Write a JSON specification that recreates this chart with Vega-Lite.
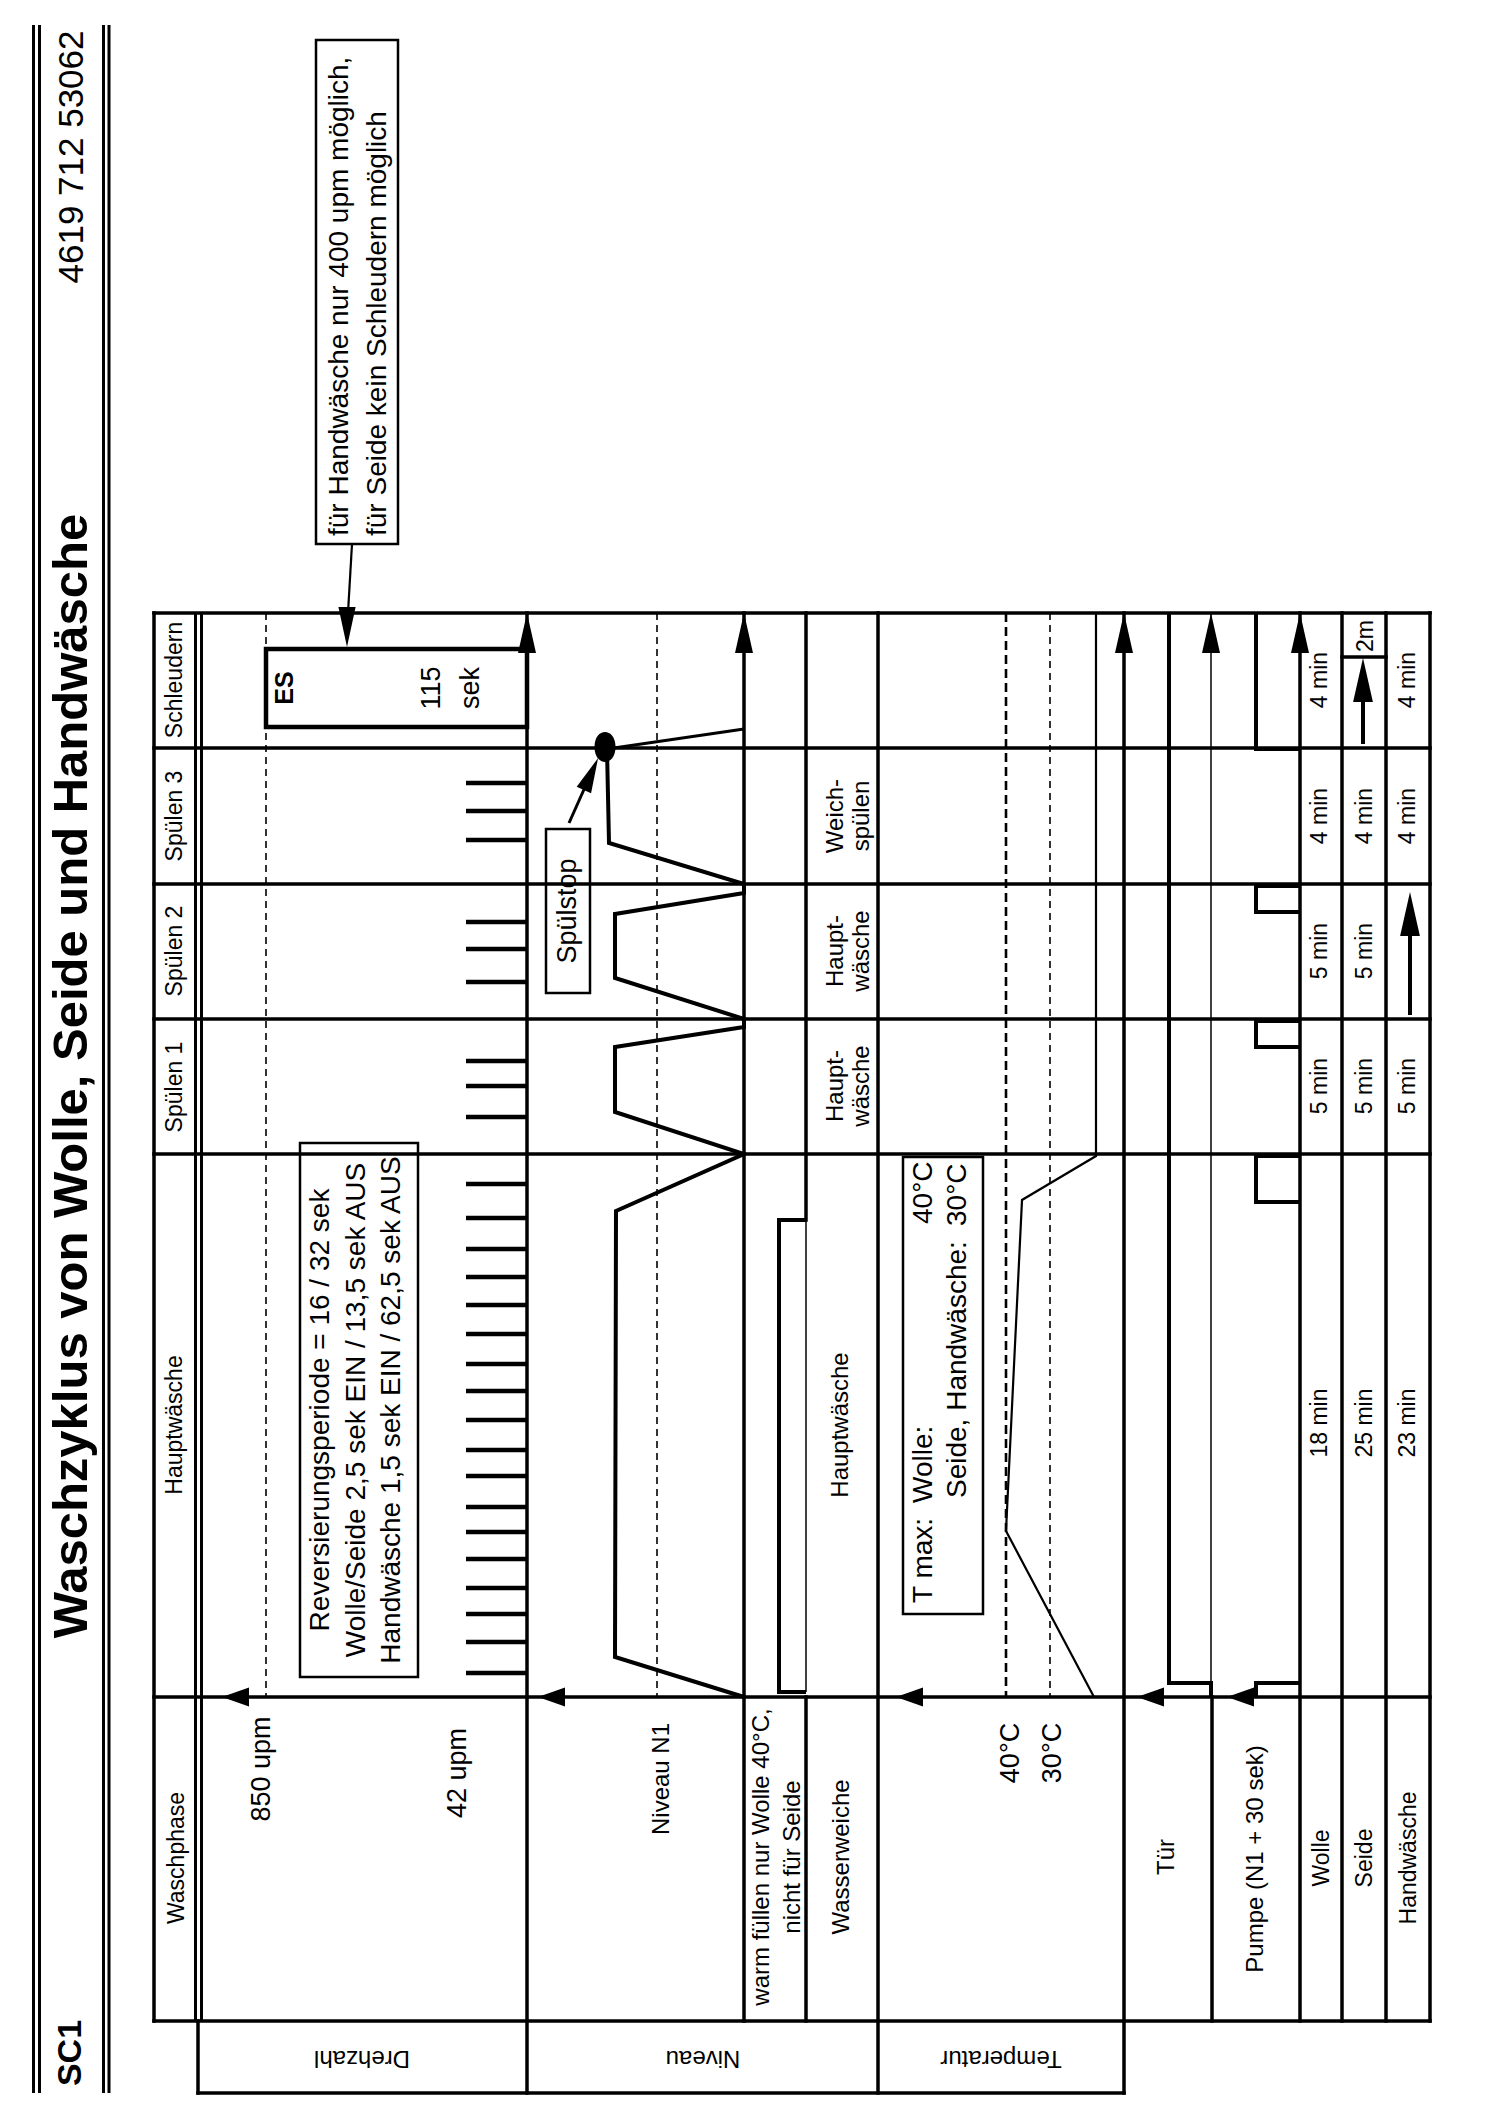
{
  "$schema": "https://vega.github.io/schema/vega-lite/v6.json",
  "width": 1500,
  "height": 2121,
  "autosize": {"type": "fit", "contains": "padding"},
  "padding": 0,
  "background": "white",
  "config": {"view": {"stroke": null}},
  "datasets": {
    "frame": [
      {"x":154,"y":613,"x2":1430,"y2":613},
      {"x":154,"y":2021,"x2":1430,"y2":2021},
      {"x":154,"y":613,"x2":154,"y2":2021},
      {"x":1430,"y":613,"x2":1430,"y2":2021},
      {"x":154,"y":748,"x2":1430,"y2":748},
      {"x":154,"y":884,"x2":1430,"y2":884},
      {"x":154,"y":1019,"x2":1430,"y2":1019},
      {"x":154,"y":1154,"x2":1430,"y2":1154},
      {"x":154,"y":1697,"x2":1430,"y2":1697},
      {"x":527,"y":613,"x2":527,"y2":2093},
      {"x":744,"y":613,"x2":744,"y2":2021},
      {"x":806,"y":613,"x2":806,"y2":1220},
      {"x":806,"y":1697,"x2":806,"y2":2021},
      {"x":878,"y":613,"x2":878,"y2":2093},
      {"x":1124,"y":613,"x2":1124,"y2":2093},
      {"x":1212,"y":1697,"x2":1212,"y2":2021},
      {"x":1300,"y":613,"x2":1300,"y2":2021},
      {"x":1342,"y":613,"x2":1342,"y2":2021},
      {"x":1386,"y":613,"x2":1386,"y2":2021},
      {"x":198,"y":2021,"x2":198,"y2":2093},
      {"x":198,"y":2093,"x2":1124,"y2":2093},
      {"x":1342,"y":657,"x2":1386,"y2":657}
    ],
    "dbl": [
      {"x":195.5,"y":613,"x2":195.5,"y2":2021},
      {"x":201.5,"y":613,"x2":201.5,"y2":2021},
      {"x":33.5,"y":25,"x2":33.5,"y2":2093},
      {"x":39.5,"y":25,"x2":39.5,"y2":2093},
      {"x":103.5,"y":25,"x2":103.5,"y2":2093},
      {"x":109,"y":25,"x2":109,"y2":2093}
    ],
    "thin": [
      {"x":1211,"y":613,"x2":1211,"y2":1697},
      {"x":806,"y":1220,"x2":806,"y2":1692}
    ],
    "dashA": [
      {"x":266,"y":613,"x2":266,"y2":1697},
      {"x":657,"y":613,"x2":657,"y2":1697},
      {"x":1050,"y":613,"x2":1050,"y2":1697}
    ],
    "dashB": [
      {"x":1006,"y":613,"x2":1006,"y2":1697}
    ],
    "ticks": [
      {"x":466,"x2":527,"y":783},{"x":466,"x2":527,"y":811},{"x":466,"x2":527,"y":840},
      {"x":466,"x2":527,"y":922},{"x":466,"x2":527,"y":949},{"x":466,"x2":527,"y":982},
      {"x":466,"x2":527,"y":1061},{"x":466,"x2":527,"y":1086},{"x":466,"x2":527,"y":1117},
      {"x":466,"x2":527,"y":1184},{"x":466,"x2":527,"y":1218},{"x":466,"x2":527,"y":1249},
      {"x":466,"x2":527,"y":1277},{"x":466,"x2":527,"y":1305},{"x":466,"x2":527,"y":1334},
      {"x":466,"x2":527,"y":1364},{"x":466,"x2":527,"y":1391},{"x":466,"x2":527,"y":1420},
      {"x":466,"x2":527,"y":1450},{"x":466,"x2":527,"y":1476},{"x":466,"x2":527,"y":1507},
      {"x":466,"x2":527,"y":1532},{"x":466,"x2":527,"y":1559},{"x":466,"x2":527,"y":1588},
      {"x":466,"x2":527,"y":1614},{"x":466,"x2":527,"y":1642},{"x":466,"x2":527,"y":1673}
    ],
    "sig": [
      {"seg":"niv","i":1,"x":744,"y":1697},{"seg":"niv","i":2,"x":615,"y":1657},{"seg":"niv","i":3,"x":616,"y":1211},
      {"seg":"niv","i":4,"x":744,"y":1154},{"seg":"niv","i":5,"x":615,"y":1112},{"seg":"niv","i":6,"x":615,"y":1047},
      {"seg":"niv","i":7,"x":744,"y":1027},{"seg":"niv","i":8,"x":744,"y":1019},{"seg":"niv","i":9,"x":615,"y":978},
      {"seg":"niv","i":10,"x":615,"y":914},{"seg":"niv","i":11,"x":744,"y":893},{"seg":"niv","i":12,"x":744,"y":884},
      {"seg":"niv","i":13,"x":609,"y":843},{"seg":"niv","i":14,"x":607,"y":749},
      {"seg":"ww","i":1,"x":806,"y":1220},{"seg":"ww","i":2,"x":779,"y":1220},{"seg":"ww","i":3,"x":779,"y":1692},{"seg":"ww","i":4,"x":806,"y":1692},
      {"seg":"door","i":1,"x":1169,"y":613},{"seg":"door","i":2,"x":1169,"y":1683},{"seg":"door","i":3,"x":1211,"y":1683},{"seg":"door","i":4,"x":1211,"y":1697},
      {"seg":"p1","i":1,"x":1256,"y":613},{"seg":"p1","i":2,"x":1256,"y":749},{"seg":"p1","i":3,"x":1300,"y":749},
      {"seg":"p2","i":1,"x":1300,"y":886},{"seg":"p2","i":2,"x":1256,"y":886},{"seg":"p2","i":3,"x":1256,"y":912},{"seg":"p2","i":4,"x":1300,"y":912},
      {"seg":"p3","i":1,"x":1300,"y":1021},{"seg":"p3","i":2,"x":1256,"y":1021},{"seg":"p3","i":3,"x":1256,"y":1047},{"seg":"p3","i":4,"x":1300,"y":1047},
      {"seg":"p4","i":1,"x":1300,"y":1156},{"seg":"p4","i":2,"x":1256,"y":1156},{"seg":"p4","i":3,"x":1256,"y":1202},{"seg":"p4","i":4,"x":1300,"y":1202},
      {"seg":"p5","i":1,"x":1300,"y":1683},{"seg":"p5","i":2,"x":1256,"y":1683},{"seg":"p5","i":3,"x":1256,"y":1697},
      {"seg":"sa","i":1,"x":1363,"y":744},{"seg":"sa","i":2,"x":1363,"y":690},
      {"seg":"ha","i":1,"x":1410,"y":1015},{"seg":"ha","i":2,"x":1410,"y":925}
    ],
    "thinsig": [
      {"seg":"temp","i":1,"x":1094,"y":1697},{"seg":"temp","i":2,"x":1006,"y":1531},{"seg":"temp","i":3,"x":1022,"y":1200},
      {"seg":"temp","i":4,"x":1096,"y":1156},{"seg":"temp","i":5,"x":1096,"y":613},
      {"seg":"ptr","i":1,"x":352,"y":544},{"seg":"ptr","i":2,"x":347,"y":630}
    ],
    "medsig": [
      {"seg":"drain","i":1,"x":607,"y":749},{"seg":"drain","i":2,"x":744,"y":729},
      {"seg":"sp","i":1,"x":569,"y":823},{"seg":"sp","i":2,"x":590,"y":776}
    ],
    "boxes": [
      {"x":316,"y":40,"x2":398,"y2":544},
      {"x":300,"y":1143,"x2":418,"y2":1677},
      {"x":903,"y":1157,"x2":983,"y2":1614},
      {"x":546,"y":829,"x2":590,"y2":993}
    ],
    "esbox": [{"x":266,"y":649,"x2":527,"y2":727}],
    "arrUp40": [{"x":527,"y":633},{"x":744,"y":633},{"x":1124,"y":633},{"x":1211,"y":633},{"x":1300,"y":633}],
    "arrUp44": [{"x":1363,"y":680},{"x":1410,"y":914}],
    "arrLeft": [{"x":235.5,"y":1697},{"x":551.5,"y":1697},{"x":909.5,"y":1697},{"x":1150.5,"y":1697},{"x":1240.5,"y":1697}],
    "arrDown": [{"x":347,"y":627}],
    "arrSp": [{"x":591,"y":774}],
    "dot": [{"x":605,"y":747}],
    "tTitle": [{"t":"Waschzyklus von Wolle, Seide und Handwäsche","x":72,"y":1076}],
    "tSC": [{"t":"SC1","x":71,"y":2053}],
    "tNum": [{"t":"4619 712 53062","x":72,"y":157}],
    "t23": [
      {"t":"Schleudern","x":175,"y":680},{"t":"Spülen 3","x":175,"y":816},{"t":"Spülen 2","x":175,"y":951},
      {"t":"Spülen 1","x":175,"y":1087},{"t":"Hauptwäsche","x":175,"y":1425},{"t":"Waschphase","x":177,"y":1858},
      {"t":"4 min","x":1320,"y":680},{"t":"4 min","x":1320,"y":816},{"t":"5 min","x":1320,"y":951},{"t":"5 min","x":1320,"y":1086},{"t":"18 min","x":1320,"y":1423},
      {"t":"4 min","x":1365,"y":816},{"t":"5 min","x":1365,"y":951},{"t":"5 min","x":1365,"y":1086},{"t":"25 min","x":1365,"y":1423},
      {"t":"4 min","x":1408,"y":680},{"t":"4 min","x":1408,"y":816},{"t":"5 min","x":1408,"y":1086},{"t":"23 min","x":1408,"y":1423},
      {"t":"Wolle","x":1322,"y":1858},{"t":"Seide","x":1365,"y":1858},{"t":"Handwäsche","x":1409,"y":1858},
      {"t":"2m","x":1366,"y":636}
    ],
    "t24": [
      {"t":"Niveau N1","x":662,"y":1779},
      {"t":"warm füllen nur Wolle 40°C,","x":762,"y":1857},{"t":"nicht für Seide","x":793,"y":1857},
      {"t":"Wasserweiche","x":842,"y":1857},{"t":"Tür","x":1167,"y":1857},{"t":"Pumpe  (N1 + 30 sek)","x":1256,"y":1859},
      {"t":"Hauptwäsche","x":841,"y":1425},
      {"t":"Haupt-","x":836,"y":1086},{"t":"wäsche","x":862,"y":1086},
      {"t":"Haupt-","x":836,"y":951},{"t":"wäsche","x":862,"y":951},
      {"t":"Weich-","x":836,"y":816},{"t":"spülen","x":862,"y":816}
    ],
    "t27": [
      {"t":"850 upm","x":262,"y":1769},{"t":"42 upm","x":458,"y":1773},{"t":"Spülstop","x":568,"y":911},
      {"t":"40°C","x":1011,"y":1753},{"t":"30°C","x":1053,"y":1753},
      {"t":"115","x":432,"y":688},{"t":"sek","x":471,"y":688}
    ],
    "tES": [{"t":"ES","x":285,"y":688}],
    "tLeft": [
      {"t":"für Handwäsche nur 400 upm möglich,","x":340,"y":536},
      {"t":"für Seide kein Schleudern möglich","x":378,"y":536},
      {"t":"T max:","x":924,"y":1603},{"t":"Wolle:","x":924,"y":1503},{"t":"40°C","x":924,"y":1224},
      {"t":"Seide, Handwäsche:","x":958,"y":1498},{"t":"30°C","x":958,"y":1226}
    ],
    "tRev": [
      {"t":"Reversierungsperiode = 16 / 32 sek","x":321,"y":1410},
      {"t":"Wolle/Seide  2,5 sek EIN / 13,5 sek AUS","x":357,"y":1410},
      {"t":"Handwäsche 1,5 sek EIN / 62,5 sek AUS","x":392,"y":1410}
    ],
    "tFlip": [
      {"t":"Drehzahl","x":362,"y":2058},{"t":"Niveau","x":703,"y":2058},{"t":"Temperatur","x":1001,"y":2058}
    ]
  },
  "layer": [
    {"data":{"name":"frame"},"mark":{"type":"rule","color":"black","strokeWidth":3.5,"strokeCap":"square"},
     "encoding":{"x":{"field":"x","type":"quantitative","scale":{"domain":[0,1500],"nice":false,"zero":false},"axis":null},
                 "y":{"field":"y","type":"quantitative","scale":{"domain":[0,2121],"nice":false,"zero":false,"reverse":true},"axis":null},
                 "x2":{"field":"x2"},"y2":{"field":"y2"}}},
    {"data":{"name":"dbl"},"mark":{"type":"rule","color":"black","strokeWidth":3},
     "encoding":{"x":{"field":"x","type":"quantitative","axis":null},"y":{"field":"y","type":"quantitative","axis":null},"x2":{"field":"x2"},"y2":{"field":"y2"}}},
    {"data":{"name":"thin"},"mark":{"type":"rule","color":"black","strokeWidth":1.5},
     "encoding":{"x":{"field":"x","type":"quantitative","axis":null},"y":{"field":"y","type":"quantitative","axis":null},"x2":{"field":"x2"},"y2":{"field":"y2"}}},
    {"data":{"name":"dashA"},"mark":{"type":"rule","color":"black","strokeWidth":1.6,"strokeDash":[7,5]},
     "encoding":{"x":{"field":"x","type":"quantitative","axis":null},"y":{"field":"y","type":"quantitative","axis":null},"x2":{"field":"x2"},"y2":{"field":"y2"}}},
    {"data":{"name":"dashB"},"mark":{"type":"rule","color":"black","strokeWidth":2.6,"strokeDash":[9,5]},
     "encoding":{"x":{"field":"x","type":"quantitative","axis":null},"y":{"field":"y","type":"quantitative","axis":null},"x2":{"field":"x2"},"y2":{"field":"y2"}}},
    {"data":{"name":"ticks"},"mark":{"type":"rule","color":"black","strokeWidth":4.5},
     "encoding":{"x":{"field":"x","type":"quantitative","axis":null},"y":{"field":"y","type":"quantitative","axis":null},"x2":{"field":"x2"}}},
    {"data":{"name":"sig"},"mark":{"type":"line","color":"black","strokeWidth":4,"strokeJoin":"miter","strokeCap":"butt"},
     "encoding":{"x":{"field":"x","type":"quantitative","axis":null},"y":{"field":"y","type":"quantitative","axis":null},
                 "detail":{"field":"seg"},"order":{"field":"i","type":"quantitative"}}},
    {"data":{"name":"thinsig"},"mark":{"type":"line","color":"black","strokeWidth":2.2,"strokeJoin":"miter"},
     "encoding":{"x":{"field":"x","type":"quantitative","axis":null},"y":{"field":"y","type":"quantitative","axis":null},
                 "detail":{"field":"seg"},"order":{"field":"i","type":"quantitative"}}},
    {"data":{"name":"medsig"},"mark":{"type":"line","color":"black","strokeWidth":3,"strokeJoin":"miter"},
     "encoding":{"x":{"field":"x","type":"quantitative","axis":null},"y":{"field":"y","type":"quantitative","axis":null},
                 "detail":{"field":"seg"},"order":{"field":"i","type":"quantitative"}}},
    {"data":{"name":"boxes"},"mark":{"type":"rect","filled":false,"color":"black","strokeWidth":2.5},
     "encoding":{"x":{"field":"x","type":"quantitative","axis":null},"y":{"field":"y","type":"quantitative","axis":null},"x2":{"field":"x2"},"y2":{"field":"y2"}}},
    {"data":{"name":"esbox"},"mark":{"type":"rect","filled":false,"color":"black","strokeWidth":4.5},
     "encoding":{"x":{"field":"x","type":"quantitative","axis":null},"y":{"field":"y","type":"quantitative","axis":null},"x2":{"field":"x2"},"y2":{"field":"y2"}}},
    {"data":{"name":"arrUp40"},"mark":{"type":"point","shape":"M0,-1L0.45,1L-0.45,1Z","size":1600,"filled":true,"color":"black","opacity":1,"strokeWidth":0},
     "encoding":{"x":{"field":"x","type":"quantitative","axis":null},"y":{"field":"y","type":"quantitative","axis":null}}},
    {"data":{"name":"arrUp44"},"mark":{"type":"point","shape":"M0,-1L0.45,1L-0.45,1Z","size":1936,"filled":true,"color":"black","opacity":1,"strokeWidth":0},
     "encoding":{"x":{"field":"x","type":"quantitative","axis":null},"y":{"field":"y","type":"quantitative","axis":null}}},
    {"data":{"name":"arrLeft"},"mark":{"type":"point","shape":"M-1,0L1,-0.7L1,0.7Z","size":729,"filled":true,"color":"black","opacity":1,"strokeWidth":0},
     "encoding":{"x":{"field":"x","type":"quantitative","axis":null},"y":{"field":"y","type":"quantitative","axis":null}}},
    {"data":{"name":"arrDown"},"mark":{"type":"point","shape":"M0,1L0.43,-1L-0.43,-1Z","size":1600,"filled":true,"color":"black","opacity":1,"strokeWidth":0},
     "encoding":{"x":{"field":"x","type":"quantitative","axis":null},"y":{"field":"y","type":"quantitative","axis":null}}},
    {"data":{"name":"arrSp"},"mark":{"type":"point","shape":"M0,-1L0.45,1L-0.45,1Z","size":1225,"angle":24,"filled":true,"color":"black","opacity":1,"strokeWidth":0},
     "encoding":{"x":{"field":"x","type":"quantitative","axis":null},"y":{"field":"y","type":"quantitative","axis":null}}},
    {"data":{"name":"dot"},"mark":{"type":"point","shape":"M-0.7,0C-0.7,-1.33 0.7,-1.33 0.7,0C0.7,1.33 -0.7,1.33 -0.7,0Z","size":900,"filled":true,"color":"black","opacity":1,"strokeWidth":0},
     "encoding":{"x":{"field":"x","type":"quantitative","axis":null},"y":{"field":"y","type":"quantitative","axis":null}}},
    {"data":{"name":"tTitle"},"mark":{"type":"text","font":"Liberation Sans","fontWeight":"bold","fontSize":49,"angle":270,"align":"center","baseline":"middle","color":"black"},
     "encoding":{"x":{"field":"x","type":"quantitative","axis":null},"y":{"field":"y","type":"quantitative","axis":null},"text":{"field":"t"}}},
    {"data":{"name":"tSC"},"mark":{"type":"text","font":"Liberation Sans","fontWeight":"bold","fontSize":34,"angle":270,"align":"center","baseline":"middle","color":"black"},
     "encoding":{"x":{"field":"x","type":"quantitative","axis":null},"y":{"field":"y","type":"quantitative","axis":null},"text":{"field":"t"}}},
    {"data":{"name":"tNum"},"mark":{"type":"text","font":"Liberation Sans","fontSize":35,"angle":270,"align":"center","baseline":"middle","color":"black"},
     "encoding":{"x":{"field":"x","type":"quantitative","axis":null},"y":{"field":"y","type":"quantitative","axis":null},"text":{"field":"t"}}},
    {"data":{"name":"t23"},"mark":{"type":"text","font":"Liberation Sans","fontSize":23,"angle":270,"align":"center","baseline":"middle","color":"black"},
     "encoding":{"x":{"field":"x","type":"quantitative","axis":null},"y":{"field":"y","type":"quantitative","axis":null},"text":{"field":"t"}}},
    {"data":{"name":"t24"},"mark":{"type":"text","font":"Liberation Sans","fontSize":24,"angle":270,"align":"center","baseline":"middle","color":"black"},
     "encoding":{"x":{"field":"x","type":"quantitative","axis":null},"y":{"field":"y","type":"quantitative","axis":null},"text":{"field":"t"}}},
    {"data":{"name":"t27"},"mark":{"type":"text","font":"Liberation Sans","fontSize":27,"angle":270,"align":"center","baseline":"middle","color":"black"},
     "encoding":{"x":{"field":"x","type":"quantitative","axis":null},"y":{"field":"y","type":"quantitative","axis":null},"text":{"field":"t"}}},
    {"data":{"name":"tES"},"mark":{"type":"text","font":"Liberation Sans","fontWeight":"bold","fontSize":25,"angle":270,"align":"center","baseline":"middle","color":"black"},
     "encoding":{"x":{"field":"x","type":"quantitative","axis":null},"y":{"field":"y","type":"quantitative","axis":null},"text":{"field":"t"}}},
    {"data":{"name":"tLeft"},"mark":{"type":"text","font":"Liberation Sans","fontSize":28,"angle":270,"align":"left","baseline":"middle","color":"black"},
     "encoding":{"x":{"field":"x","type":"quantitative","axis":null},"y":{"field":"y","type":"quantitative","axis":null},"text":{"field":"t"}}},
    {"data":{"name":"tRev"},"mark":{"type":"text","font":"Liberation Sans","fontSize":28,"angle":270,"align":"center","baseline":"middle","color":"black"},
     "encoding":{"x":{"field":"x","type":"quantitative","axis":null},"y":{"field":"y","type":"quantitative","axis":null},"text":{"field":"t"}}},
    {"data":{"name":"tFlip"},"mark":{"type":"text","font":"Liberation Sans","fontSize":24,"angle":180,"align":"center","baseline":"middle","color":"black"},
     "encoding":{"x":{"field":"x","type":"quantitative","axis":null},"y":{"field":"y","type":"quantitative","axis":null},"text":{"field":"t"}}}
  ]
}
